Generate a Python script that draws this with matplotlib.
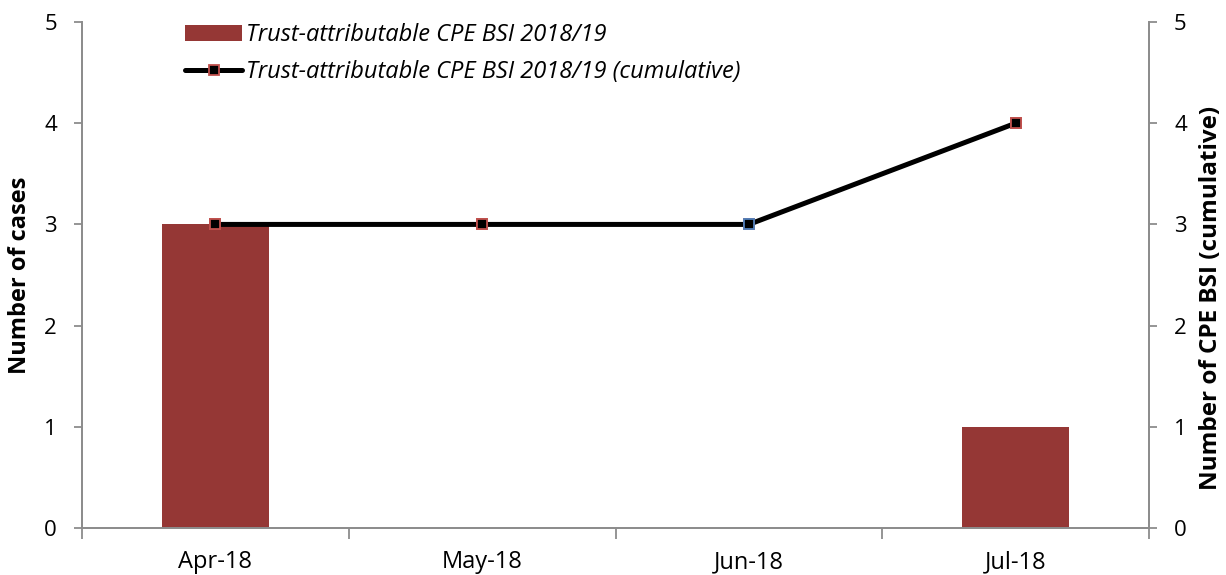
import matplotlib.pyplot as plt
import numpy as np

plt.rcParams['font.family'] = ['Open Sans', 'DejaVu Sans']

months = ["Apr-18", "May-18", "Jun-18", "Jul-18"]
cases = [3, 0, 0, 1]
cumulative = [3, 3, 3, 4]
edge_colors = ["#C0504D", "#C0504D", "#4F81BD", "#C0504D"]

bar_color = "#953735"
grey = "#8C8C8C"

fig = plt.figure(figsize=(12.26, 5.75), dpi=100)
ax = fig.add_axes([0.0669, 0.0817, 0.8703, 0.88])
ax2 = ax.twinx()

x = np.arange(len(months))
ax.bar(x, cases, width=0.4, color=bar_color, zorder=2,
       label="Trust-attributable CPE BSI 2018/19")

ax2.plot(x, cumulative, color="black", lw=3.6, zorder=3, solid_capstyle="round",
         marker="s", ms=7.5, mfc="black", mec="#C0504D", mew=1.3,
         label="Trust-attributable CPE BSI 2018/19 (cumulative)")
# redraw each marker so one can have its own edge colour
for xi, yi, ec in zip(x, cumulative, edge_colors):
    ax2.plot(xi, yi, marker="s", ms=7.5, mfc="black", mec=ec, mew=1.3, zorder=4)

for a in (ax, ax2):
    a.set_ylim(0, 5)
    a.set_xlim(-0.5, len(months) - 0.5)
    a.set_yticks(range(6))
    for s in a.spines.values():
        s.set_color(grey)
        s.set_linewidth(1.3)
    a.spines['top'].set_visible(False)
    a.tick_params(axis='y', length=6, width=1.3, color=grey, labelsize=16, pad=12)

ax.set_xticks(x)
ax.set_xticklabels(months, fontsize=17)
ax.set_xticks(np.arange(-0.5, len(months)), minor=True)
ax.tick_params(axis='x', which='major', length=0, pad=16)
ax.tick_params(axis='x', which='minor', length=8, width=1.3, color=grey)

ax.set_ylabel("Number of cases", fontsize=17, fontweight="bold")
ax.yaxis.set_label_coords(-0.047, 0.5)
ax2.set_ylabel("Number of CPE BSI (cumulative)", fontsize=17.5, fontweight="bold")
ax2.yaxis.set_label_coords(1.047, 0.455)

h1, l1 = ax.get_legend_handles_labels()
h2, l2 = ax2.get_legend_handles_labels()
leg = ax.legend(h1 + h2, l1 + l2, loc="upper left", bbox_to_anchor=(0.077, 1.04),
                frameon=False, handlelength=2.4, handletextpad=0.15, labelspacing=0.55,
                prop={'style': 'italic', 'size': 17})

fig.savefig("out.png", dpi=100)
